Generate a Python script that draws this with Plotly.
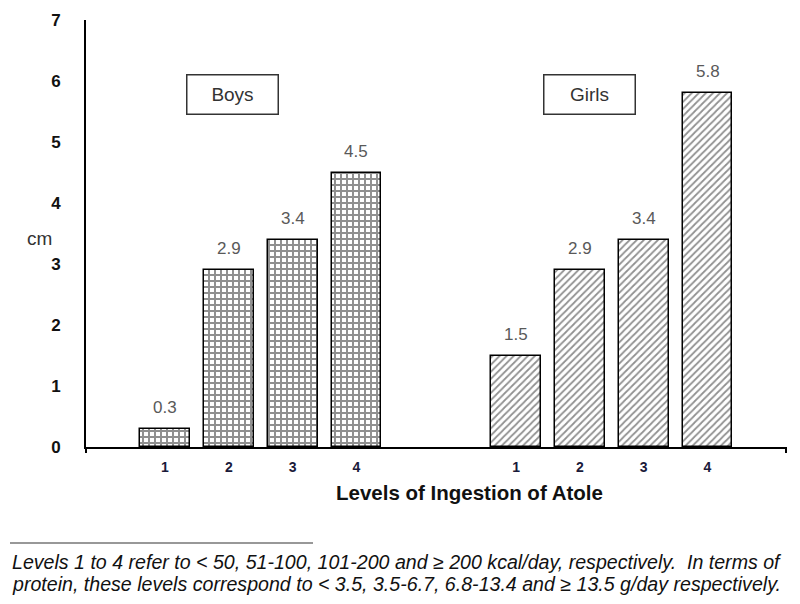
import plotly.graph_objects as go

levels = ["1", "2", "3", "4"]
boys_values = [0.3, 2.9, 3.4, 4.5]
girls_values = [1.5, 2.9, 3.4, 5.8]
boys_x = [1, 2, 3, 4]
girls_x = [6.5, 7.5, 8.5, 9.5]
y_ticks = [0, 1, 2, 3, 4, 5, 6, 7]
group_labels = ["Boys", "Girls"]
x_title = "Levels of Ingestion of Atole"
y_title = "cm"
footnote = [
    "Levels 1 to 4 refer to < 50, 51-100, 101-200 and \u2265 200 kcal/day, respectively.  In terms of",
    "protein, these levels correspond to < 3.5, 3.5-6.7, 6.8-13.4 and \u2265 13.5 g/day respectively.",
]

L, R, T, B = 86, 14, 20, 157
W, H = 800, 604
pw = W - L - R
ph = H - T - B

def px_x(p):
    return (p - L) / pw

def px_y(p):
    return (H - B - p) / ph

fig = go.Figure()
fig.add_trace(go.Bar(
    x=boys_x, y=boys_values, width=0.78,
    marker=dict(color="white", line=dict(color="black", width=1.5),
                pattern=dict(shape="+", size=6, solidity=0.55, fgcolor="#222", bgcolor="white", fillmode="overlay")),
    showlegend=False, hoverinfo="skip"))
fig.add_trace(go.Bar(
    x=girls_x, y=girls_values, width=0.78,
    marker=dict(color="white", line=dict(color="black", width=1.5),
                pattern=dict(shape="/", size=5, solidity=0.35, fgcolor="#222", bgcolor="white", fillmode="overlay")),
    showlegend=False, hoverinfo="skip"))

annotations = []
for xs, vs in ((boys_x, boys_values), (girls_x, girls_values)):
    for xv, v in zip(xs, vs):
        annotations.append(dict(x=xv, y=v, xref="x", yref="y", text=f"{v:.1f}",
                                showarrow=False, xanchor="center", yanchor="bottom", yshift=10,
                                font=dict(family="Liberation Sans, Arial", size=17, color="#595959")))

for label, xp in zip(group_labels, [px_x(232), px_x(589)]):
    annotations.append(dict(x=xp, y=px_y(95), xref="paper", yref="paper", text=label,
                            showarrow=False, width=86, height=34, xanchor="center", yanchor="middle",
                            bordercolor="#333", borderwidth=1.5, borderpad=2, bgcolor="white",
                            font=dict(family="Liberation Sans, Arial", size=19, color="#333")))

annotations.append(dict(x=px_x(469), y=px_y(493), xref="paper", yref="paper", text=f"<b>{x_title}</b>",
                        showarrow=False, xanchor="center", yanchor="middle",
                        font=dict(family="Liberation Sans, Arial", size=20.5, color="#111")))
annotations.append(dict(x=px_x(39), y=px_y(238), xref="paper", yref="paper", text=y_title,
                        showarrow=False, xanchor="center", yanchor="middle",
                        font=dict(family="Liberation Sans, Arial", size=19, color="#333")))
for i, line in enumerate(footnote):
    annotations.append(dict(x=px_x(10), y=px_y(562 + 22 * i), xref="paper", yref="paper",
                            text=f"<i>{line}</i>", showarrow=False, xanchor="left", yanchor="middle",
                            font=dict(family="Liberation Sans, Arial", size=19.6, color="#111")))

shapes = [
    dict(type="line", xref="paper", yref="paper", x0=px_x(10), x1=px_x(313), y0=px_y(543), y1=px_y(543),
         line=dict(color="#333", width=1.2)),
    dict(type="line", xref="paper", yref="paper", x0=px_x(786), x1=px_x(786), y0=px_y(447), y1=px_y(453),
         line=dict(color="black", width=2)),
    dict(type="line", xref="paper", yref="paper", x0=0, x1=0, y0=px_y(447), y1=px_y(453),
         line=dict(color="black", width=2)),
]

fig.update_layout(
    width=W, height=H, margin=dict(l=L, r=R, t=T, b=B, autoexpand=False),
    paper_bgcolor="white", plot_bgcolor="white",
    annotations=annotations, shapes=shapes,
    xaxis=dict(range=[-0.238, 10.73], tickvals=boys_x + girls_x, ticktext=[f"<b>{t}</b>" for t in levels * 2],
               showline=True, linecolor="black", linewidth=2, showgrid=False, zeroline=False,
               ticks="", ticklabelstandoff=6, automargin=False,
               tickfont=dict(family="Liberation Sans, Arial", size=14, color="#1a1a3a")),
    yaxis=dict(range=[0, 7], tickvals=y_ticks, ticktext=[f"<b>{t}</b>" for t in y_ticks],
               showline=True, linecolor="black", linewidth=2, showgrid=False, zeroline=False,
               ticks="", ticklabelstandoff=20, automargin=False,
               tickfont=dict(family="Liberation Sans, Arial", size=17, color="#111")),
    bargap=0,
)

fig.write_html("out.html", config={"displayModeBar": False},
               post_script="document.body.style.margin='0';document.body.style.overflow='hidden';")
